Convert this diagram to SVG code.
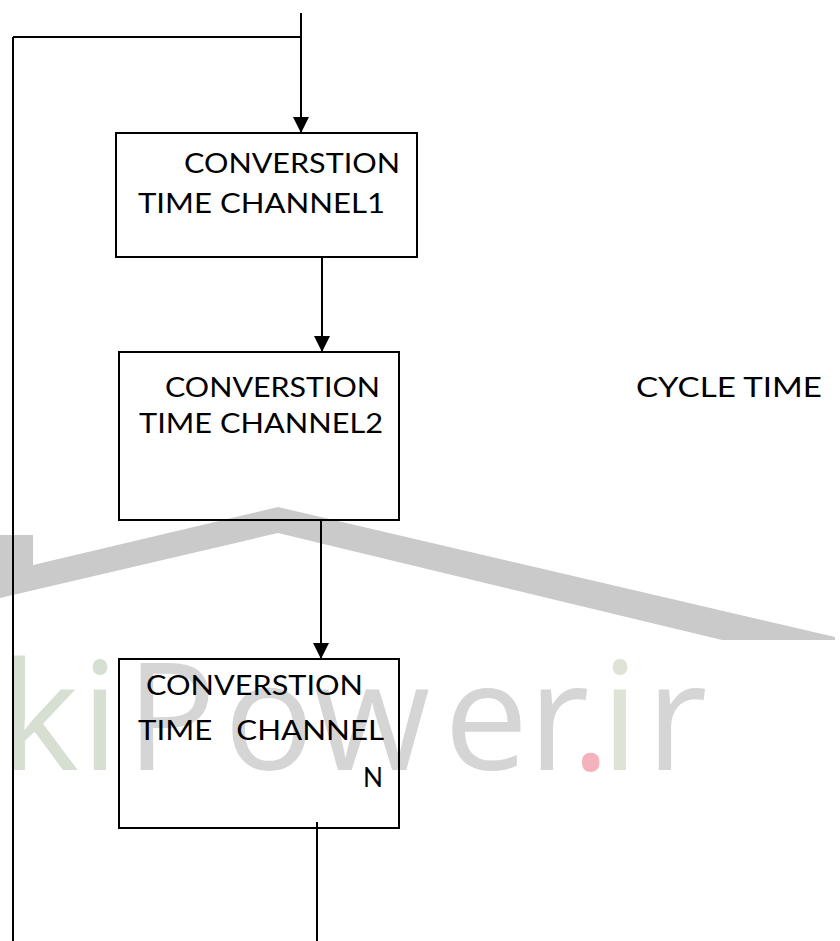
<svg xmlns="http://www.w3.org/2000/svg" width="840" height="941" viewBox="0 0 840 941">
  <style>
    .bg { fill: #ffffff; }
    .box { fill: none; stroke: #000000; stroke-width: 2; }
    .wire { fill: none; stroke: #000000; stroke-width: 2; }
    .lbl { font-family: Lato, "Open Sans", "Liberation Sans", sans-serif; font-size: 27px; fill: #000000; }
    .mark { font-family: "Open Sans", "Noto Sans", "Liberation Sans", sans-serif; font-size: 150px; }
  </style>
  <defs>
    <marker id="arrow" viewBox="0 0 16 16" refX="16" refY="8" markerWidth="16" markerHeight="16" markerUnits="userSpaceOnUse" orient="auto">
      <path d="M0,0 L16,8 L0,16 Z" fill="#000000"/>
    </marker>
  </defs>

  <rect class="bg" x="0" y="0" width="840" height="941"/>

  <!-- background watermark: roof and site name -->
  <g id="watermark">
    <polygon points="0,535 33,535 33,565 278,507 835,637 835,640 722,640 278,533 0,598" fill="#cacaca"/>
    <text class="mark" y="770">
      <tspan x="0" fill="#d6dfd1">k</tspan><tspan x="81" fill="#d6dfd1">i</tspan><tspan x="126" fill="#d5d5d5">P</tspan><tspan x="224" fill="#d5d5d5">o</tspan><tspan x="314" fill="#d5d5d5">w</tspan><tspan x="444" fill="#d5d5d5">e</tspan><tspan x="528" fill="#d5d5d5">r</tspan><tspan x="571" fill="#f4b3bc">.</tspan><tspan x="601" fill="#dee4d5">i</tspan><tspan x="646" fill="#d5d5d5">r</tspan>
    </text>
  </g>

  <!-- connectors -->
  <g id="connectors">
    <path class="wire" d="M301,13 L301,133" marker-end="url(#arrow)"/>
    <path class="wire" d="M13,37 L301,37"/>
    <path class="wire" d="M13,37 L13,941"/>
    <path class="wire" d="M322,257 L322,352" marker-end="url(#arrow)"/>
    <path class="wire" d="M321,520 L321,659" marker-end="url(#arrow)"/>
    <path class="wire" d="M317,822 L317,941"/>
  </g>

  <g id="channel1">
    <rect class="box" x="116" y="133" width="301" height="124"/>
    <text class="lbl" x="184" y="173" textLength="216" lengthAdjust="spacingAndGlyphs">CONVERSTION</text>
    <text class="lbl" x="138" y="213" textLength="247" lengthAdjust="spacingAndGlyphs">TIME CHANNEL1</text>
  </g>

  <g id="channel2">
    <rect class="box" x="119" y="352" width="280" height="168"/>
    <text class="lbl" x="165" y="397" textLength="215" lengthAdjust="spacingAndGlyphs">CONVERSTION</text>
    <text class="lbl" x="139" y="433" textLength="244" lengthAdjust="spacingAndGlyphs">TIME CHANNEL2</text>
  </g>

  <g id="channelN">
    <rect class="box" x="119" y="659" width="280" height="169"/>
    <text class="lbl" x="146" y="695" textLength="217" lengthAdjust="spacingAndGlyphs">CONVERSTION</text>
    <text class="lbl" x="138" y="740" xml:space="preserve" textLength="246" lengthAdjust="spacingAndGlyphs">TIME   CHANNEL</text>
    <text class="lbl" x="363" y="787" textLength="20" lengthAdjust="spacingAndGlyphs">N</text>
  </g>

  <g id="cycle-time">
    <text class="lbl" x="636" y="397" textLength="186" lengthAdjust="spacingAndGlyphs">CYCLE TIME</text>
  </g>
</svg>
